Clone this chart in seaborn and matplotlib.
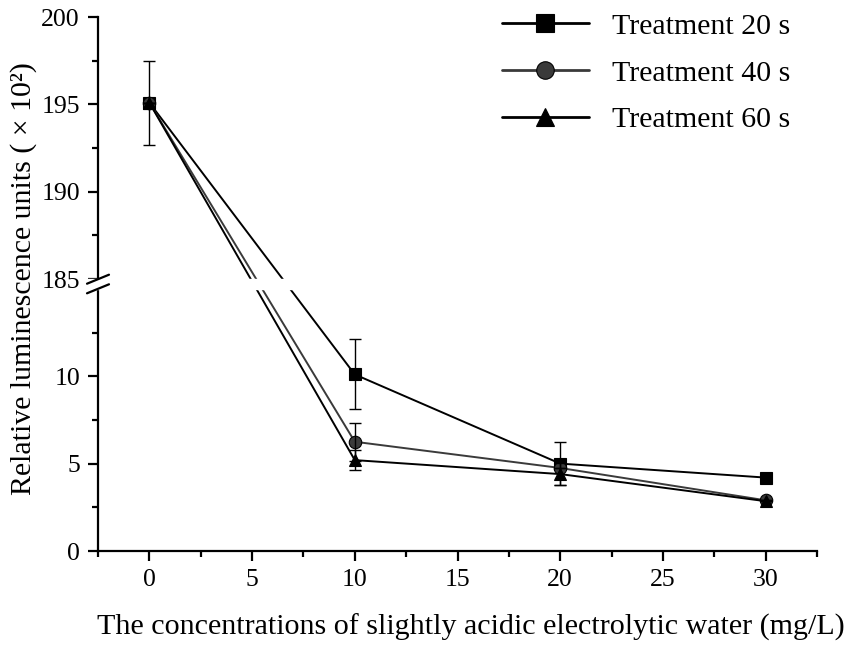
import numpy as np
import pandas as pd
import matplotlib
matplotlib.use("Agg")
import matplotlib.pyplot as plt
from matplotlib.ticker import FixedLocator, MultipleLocator
import seaborn as sns

# ---- data ----
concentrations = [0, 10, 20, 30]
series_names = ["Treatment 20 s", "Treatment 40 s", "Treatment 60 s"]
rlu_20s = [195.1, 10.1, 5.0, 4.2]
rlu_40s = [195.1, 6.25, 4.75, 2.9]
rlu_60s = [195.1, 5.2, 4.4, 2.85]
err_20s = [2.4, 2.0, 1.25, 0.0]
err_40s = [0.0, 1.1, 0.0, 0.0]
err_60s = [0.0, 0.55, 0.62, 0.0]
y_major_ticks = [0, 5, 10, 185, 190, 195, 200]
y_minor_ticks = [2.5, 7.5, 12.5, 187.5, 192.5, 197.5]

sns.set_theme(style="ticks")
plt.rcParams["font.family"] = ["Liberation Serif", "DejaVu Serif"]
plt.rcParams["text.color"] = "black"
plt.rcParams["axes.labelcolor"] = "black"

values = [rlu_20s, rlu_40s, rlu_60s]
errors = [err_20s, err_40s, err_60s]
df = pd.DataFrame({
    "conc": np.tile(concentrations, 3),
    "rlu": np.concatenate(values),
    "series": np.repeat(series_names, len(concentrations)),
})

# broken y-axis via piecewise scale
LOW, HIGH, GAP = 15.0, 185.0, 0.55
def fwd(y):
    y = np.asarray(y, dtype=float)
    return np.where(y <= LOW, y,
                    np.where(y >= HIGH, y - (HIGH - LOW) + GAP,
                             LOW + (y - LOW) * GAP / (HIGH - LOW)))
def inv(t):
    t = np.asarray(t, dtype=float)
    return np.where(t <= LOW, t,
                    np.where(t >= LOW + GAP, t + (HIGH - LOW) - GAP,
                             LOW + (t - LOW) * (HIGH - LOW) / GAP))

fig = plt.figure(figsize=(8.51, 6.45), dpi=100)
ax = fig.add_axes([98/851, 1 - 551/645, (817-98)/851, (551-17)/645])
ax.set_yscale("function", functions=(fwd, inv))

palette = {"Treatment 20 s": "black", "Treatment 40 s": "#3a3a3a", "Treatment 60 s": "black"}
markers = {"Treatment 20 s": "s", "Treatment 40 s": "o", "Treatment 60 s": "^"}
sns.lineplot(data=df, x="conc", y="rlu", hue="series", style="series",
             palette=palette, markers=markers, dashes=False, ax=ax,
             linewidth=1.4, markersize=9, markeredgecolor="black",
             markeredgewidth=0.8, zorder=4)

for vals, errs in zip(values, errors):
    ax.errorbar(concentrations, vals, yerr=errs, fmt="none", ecolor="black",
                elinewidth=1.0, capsize=4.3, capthick=1.0, zorder=5)

ax.set_xlim(-2.5, 32.5)
ax.set_ylim(0, 200)
ax.xaxis.set_major_locator(MultipleLocator(5))
ax.xaxis.set_minor_locator(MultipleLocator(2.5))
ax.yaxis.set_major_locator(FixedLocator(y_major_ticks))
ax.yaxis.set_minor_locator(FixedLocator(y_minor_ticks))
ax.set_yticklabels([str(t) for t in y_major_ticks])

for side in ["top", "right"]:
    ax.spines[side].set_visible(False)
for side in ["left", "bottom"]:
    ax.spines[side].set_linewidth(1.6)
    ax.spines[side].set_color("black")
ax.tick_params(which="major", direction="out", length=7, width=1.6,
               labelsize=18.5, pad=6, colors="black")
ax.tick_params(which="minor", direction="out", length=4.5, width=1.6, colors="black")

# white band hiding lines in the break gap
y0 = fwd(LOW); y1 = fwd(HIGH)
top = float(fwd(200))
fy0 = float(y0) / top; fy1 = float(y1) / top
ax.add_patch(plt.Rectangle((-0.02, fy0), 1.04, fy1 - fy0,
                           transform=ax.transAxes, color="white", zorder=6,
                           clip_on=False))
dx, dy = 11/719, 4.5/534
for fy in (fy0, fy1):
    ax.plot([-dx, dx], [fy - dy, fy + dy], transform=ax.transAxes,
            color="black", lw=1.6, clip_on=False, zorder=7)

ax.set_xlabel("The concentrations of slightly acidic electrolytic water (mg/L)",
              fontsize=21.6, color="black")
ax.xaxis.set_label_coords(0.519, -0.118)
ax.set_ylabel("Relative luminescence units ( × 10²)", fontsize=21.5,
              color="black")
ax.yaxis.set_label_coords(-0.085, 0.51)

leg = ax.legend(loc="upper left", bbox_to_anchor=(502/851, 1 - 13/645),
                bbox_transform=fig.transFigure, frameon=False, fontsize=21.5,
                handlelength=2.9, handletextpad=0.8, labelspacing=0.66,
                borderpad=0, borderaxespad=0, markerscale=1.4, title=None,
                labelcolor="black")
for line in leg.get_lines():
    line.set_linewidth(2.0)

fig.savefig("out.png", dpi=100)
